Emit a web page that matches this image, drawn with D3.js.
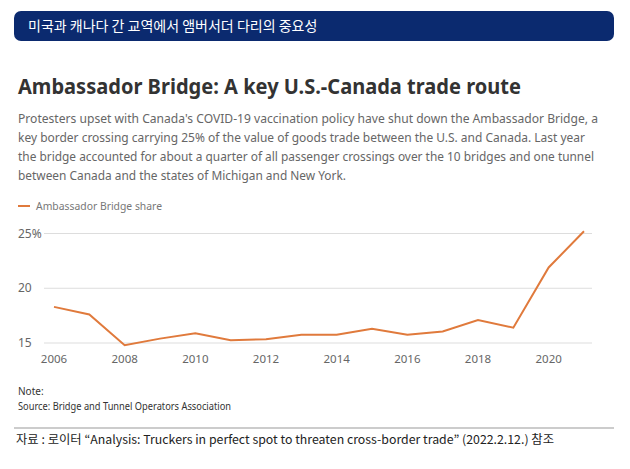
<!DOCTYPE html><html><head><meta charset="utf-8"><script src="https://cdn.jsdelivr.net/npm/d3@7"></script>
<style>body{margin:0;background:#fff;font-family:"Noto Sans CJK KR","Noto Sans",sans-serif}</style></head><body><svg id="c" width="630" height="469"></svg>
<script>
const years=[2006,2007,2008,2009,2010,2011,2012,2013,2014,2015,2016,2017,2018,2019,2020,2021];
const share=[18.3,17.6,14.8,15.4,15.9,15.25,15.35,15.75,15.75,16.3,15.75,16.05,17.1,16.4,21.9,25.2];
const yTicks=[15,20,25];
const xTicks=[2006,2008,2010,2012,2014,2016,2018,2020];
const svg=d3.select("#c");
svg.append("rect").attr("x",14).attr("y",11).attr("width",600).attr("height",30).attr("rx",7).attr("fill","#0b2a6f");
svg.append("text").attr("x",28).attr("y",31).attr("fill","#fff").attr("font-size",14).text("미국과 캐나다 간 교역에서 앰버서더 다리의 중요성");
const f="'Liberation Sans Narrow','Noto Sans',sans-serif";
const fb="'Noto Sans',sans-serif";
svg.append("text").attr("x",18).attr("y",94).attr("font-family",fb).attr("font-weight",700).attr("font-size",22).attr("fill","#333").attr("textLength",503).attr("lengthAdjust","spacingAndGlyphs").text("Ambassador Bridge: A key U.S.-Canada trade route");
const desc=["Protesters upset with Canada's COVID-19 vaccination policy have shut down the Ambassador Bridge, a","key border crossing carrying 25% of the value of goods trade between the U.S. and Canada. Last year","the bridge accounted for about a quarter of all passenger crossings over the 10 bridges and one tunnel","between Canada and the states of Michigan and New York."];
const dl=[580,567,576,328];
desc.forEach((t,i)=>svg.append("text").attr("x",18).attr("y",123+i*19).attr("font-family",fb).attr("font-size",12.2).attr("fill","#666").attr("textLength",dl[i]).attr("lengthAdjust","spacingAndGlyphs").text(t));
svg.append("line").attr("x1",18).attr("x2",30).attr("y1",206).attr("y2",206).attr("stroke","#e07a3c").attr("stroke-width",2);
svg.append("text").attr("x",36).attr("y",210).attr("font-family",fb).attr("font-size",11.5).attr("fill","#777").attr("textLength",126).attr("lengthAdjust","spacingAndGlyphs").text("Ambassador Bridge share");
const x=d3.scaleLinear().domain([2006,2021]).range([54,584]);
const y=d3.scaleLinear().domain([15,25]).range([343,233.5]);
yTicks.forEach(v=>{svg.append("line").attr("x1",44).attr("x2",592).attr("y1",y(v)).attr("y2",y(v)).attr("stroke","#ddd");
svg.append("text").attr("x",18).attr("y",y(v)+4).attr("font-family",fb).attr("font-size",12).attr("fill","#666").text(v===25?"25%":v);});
xTicks.forEach(v=>svg.append("text").attr("x",x(v)).attr("y",363).attr("text-anchor","middle").attr("font-family",fb).attr("font-size",11.5).attr("fill","#666").text(v));
svg.append("path").datum(years.map((d,i)=>[d,share[i]])).attr("d",d3.line().x(d=>x(d[0])).y(d=>y(d[1]))).attr("fill","none").attr("stroke","#e07a3c").attr("stroke-width",2);
svg.append("text").attr("x",18).attr("y",395).attr("font-family",fb).attr("font-size",10).attr("fill","#333").text("Note:");
svg.append("text").attr("x",18).attr("y",410).attr("font-family",fb).attr("font-size",10).attr("fill","#333").attr("textLength",213).attr("lengthAdjust","spacingAndGlyphs").text("Source: Bridge and Tunnel Operators Association");
svg.append("line").attr("x1",14).attr("x2",614).attr("y1",428).attr("y2",428).attr("stroke","#999");
svg.append("text").attr("x",16).attr("y",444).attr("font-size",12).attr("fill","#222").attr("textLength",538).attr("lengthAdjust","spacingAndGlyphs").text("자료 : 로이터 “Analysis: Truckers in perfect spot to threaten cross-border trade” (2022.2.12.) 참조");
</script></body></html>
